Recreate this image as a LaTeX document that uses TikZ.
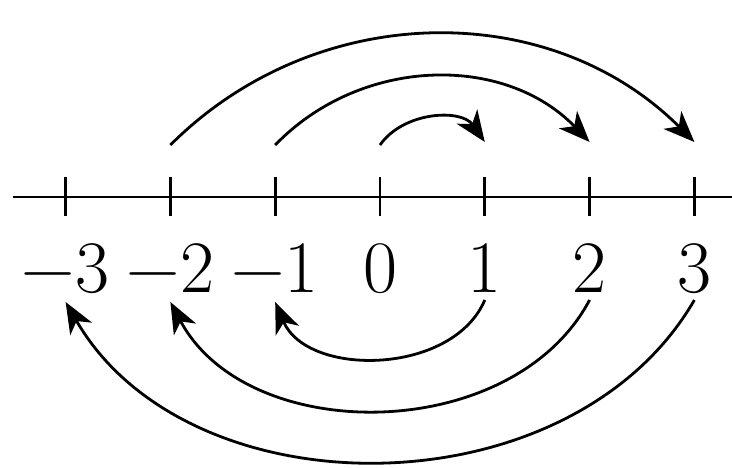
\documentclass[tikz,border=0pt]{standalone}
\usepackage{fontspec}
\usetikzlibrary{arrows.meta}
\tikzset{
  thick line/.style={line width=2.8pt},
  jump/.style={line width=2.8pt,-{Stealth[length=31pt,width=25pt,inset=9pt]}},
  numlabel/.style={anchor=base,inner sep=0pt,font=\fontsize{74}{80}\selectfont}
}
\begin{document}
\begin{tikzpicture}[x=1pt,y=1pt]
\useasboundingbox (0,0) rectangle (732,467);
% axis
\coordinate (axL) at (13,270);
\coordinate (axR) at (732,270);
\draw[thick line] (axL) -- (axR);
\foreach \i/\n in {-3/m3,-2/m2,-1/m1,0/z,1/p1,2/p2,3/p3}{
  \pgfmathsetmacro{\xx}{380+104.8*\i}
  \coordinate (t\n) at (\xx,270);
  \draw[thick line] (\xx,290) -- (\xx,251);
  \coordinate (a\n) at (\xx,322);   % top start
  \coordinate (e\n) at (\xx,325);   % top end
  \coordinate (b\n) at (\xx,167);   % bottom start
  \coordinate (f\n) at (\xx,165);   % bottom end
}
\node[numlabel] (lm3) at (65.6,175) {−3};
\node[numlabel] (lm2) at (170.4,175) {−2};
\node[numlabel] (lm1) at (275.2,175) {−1};
\node[numlabel] (lz) at (380,175) {0};
\node[numlabel] (lp1) at (484.8,175) {1};
\node[numlabel] (lp2) at (589.6,175) {2};
\node[numlabel] (lp3) at (694.4,175) {3};
% top arrows
\draw[jump] (az) to[out=55,in=125] (ep1);
\draw[jump] (am1) to[out=46,in=134] (ep2);
\draw[jump] (am2) to[out=45,in=135] (ep3);
% bottom arrows
\draw[jump] (bp1) to[out=-113,in=-67] (fm1);
\draw[jump] (bp2) to[out=-118,in=-62] (fm2);
\draw[jump] (bp3) to[out=-120,in=-60] (fm3);
\end{tikzpicture}
\end{document}
